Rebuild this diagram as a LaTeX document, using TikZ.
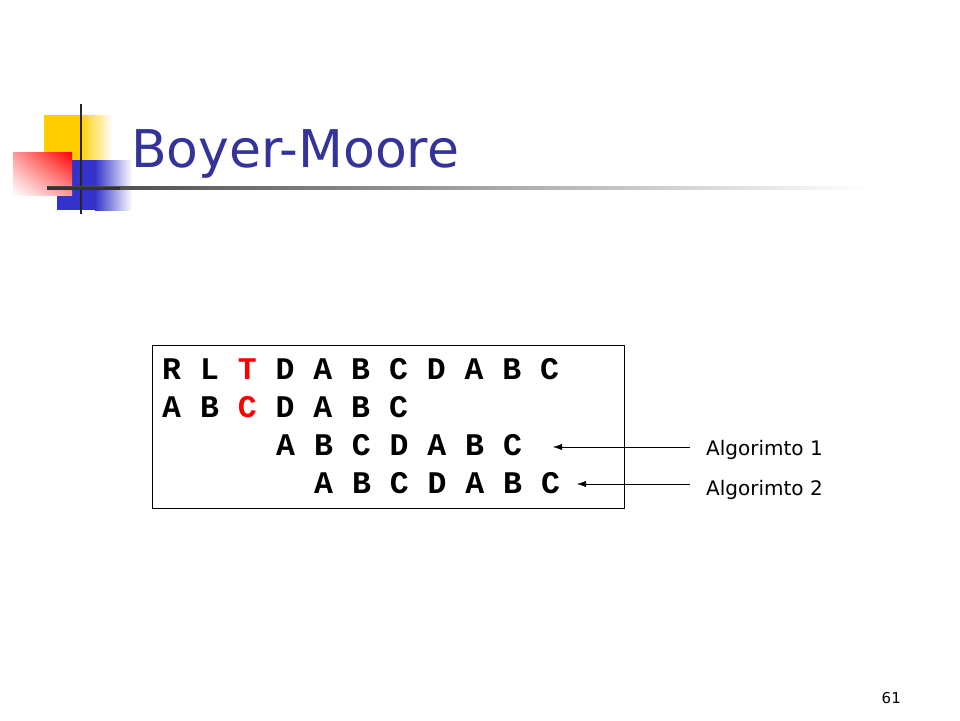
\documentclass[tikz,border=0pt]{standalone}
\usepackage{fontspec}
\setmainfont{DejaVu Sans}
\setmonofont{Liberation Mono}
\usetikzlibrary{positioning,shadings,arrows.meta}
\definecolor{titleblue}{HTML}{333399}
\definecolor{logoyellow}{HTML}{FFCC00}
\definecolor{logoblue}{HTML}{3333CC}
\tikzset{
  row/.style={anchor=base west, inner sep=0pt, font=\ttfamily\bfseries\fontsize{31.5}{36}\selectfont},
  lbl/.style={anchor=base west, inner sep=0pt, font=\fontsize{20}{24}\selectfont},
  pointer/.style={-{Latex[length=9pt,width=6pt]}, thin}
}
\begin{document}
\begin{tikzpicture}[x=1pt, y=-1pt]
    \useasboundingbox (0,0) rectangle (960,720);

    % logo
    \fill[logoyellow] (44,115) rectangle (80,160);
    \shade[left color=logoyellow, right color=white] (80,115) rectangle (112,160);
    \fill[logoblue] (57,160) rectangle (95,210);
    \shade[left color=logoblue, right color=white] (95,160) rectangle (132,210);
    \shade[lower left=white, upper right=red, lower right=red!40, upper left=red!40] (13,152) rectangle (72,195);
    \draw[line width=2.5pt, black!85] (81,104) -- (81,214);
    \shade[left color=black!75, right color=white] (47,186.5) rectangle (870,189.5);
    \fill[black!80] (47,186.5) rectangle (120,189.5);

    % title
    \node[anchor=base west, inner sep=0pt, text=titleblue, font=\fontsize{52}{60}\selectfont] (title) at (131,167) {Boyer-Moore};

    % text box
    \draw[thin] (152,345) rectangle (624,508);
    \node[row] (r1) at (162,379) {R L \textcolor{red}{T} D A B C D A B C};
    \node[row] (r2) at (162,417) {A B \textcolor{red}{C} D A B C};
    \node[row] (r3) at (276,455) {A B C D A B C};
    \node[row] (r4) at (314,493) {A B C D A B C};

    % labels
    \node[lbl] (alg1) at (706,455) {Algorimto 1};
    \node[lbl] (alg2) at (706,495) {Algorimto 2};
    \coordinate (s1) at (690,447);
    \coordinate (s2) at (690,484);
    \coordinate (t1) at (553,447);
    \coordinate (t2) at (577,484);
    \draw[pointer] (s1) -- (t1);
    \draw[pointer] (s2) -- (t2);

    \node[anchor=base east, inner sep=0pt, font=\fontsize{15}{18}\selectfont] (page) at (901,703) {61};
\end{tikzpicture}
\end{document}
